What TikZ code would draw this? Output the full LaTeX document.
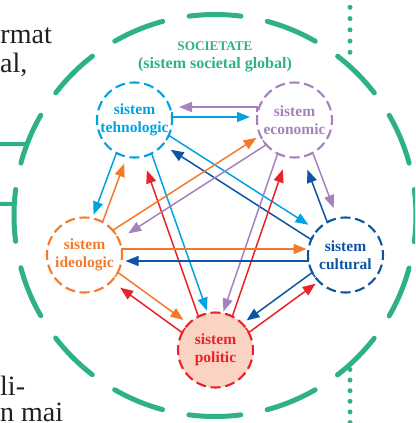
\documentclass[tikz,border=0pt]{standalone}
\usepackage{fontspec}
\setmainfont{Liberation Serif}
\usetikzlibrary{arrows.meta,calc}
\definecolor{cteh}{RGB}{0,163,224}
\definecolor{ceco}{RGB}{165,130,190}
\definecolor{cide}{RGB}{243,122,45}
\definecolor{ccul}{RGB}{12,84,164}
\definecolor{cpol}{RGB}{234,34,40}
\colorlet{ctehU}{cteh}
\colorlet{cecoU}{ceco}
\definecolor{polfill}{RGB}{250,211,194}
\definecolor{sgreen}{RGB}{46,178,133}
\definecolor{pagetext}{RGB}{35,31,32}
\newcommand\Rn{37.5pt}
\newcommand\biarr[5]{%
  \draw[arr,c#1] ($(#1)!\Rn!(#2)$) -- ($(#1)!\Rn!(#2)!#3!-90:(#2)$) -- ($(#2)!#4!(#1)!#3!90:(#1)$);
  \draw[arr,c#2] ($(#2)!\Rn!(#1)$) -- ($(#2)!\Rn!(#1)!#3!-90:(#1)$) -- ($(#1)!#5!(#2)!#3!90:(#2)$);
}
\begin{document}
\begin{tikzpicture}[x=1pt,y=-1pt,
  sys/.style={circle,draw=#1,text=#1,line width=2.1pt,minimum size=75pt,inner sep=0pt,
    align=center,font=\fontsize{15.5}{17.5}\selectfont\bfseries,
    dash pattern=on 10pt off 4.726pt,dash phase=5pt},
  arr/.style={line width=1.5pt,-{Triangle[length=13pt,width=10pt]},line join=miter},
  ring/.style={sgreen,line width=5pt,line cap=round},
  dots/.style={sgreen,line width=5pt,line cap=round},
  pagetxt/.style={pagetext,font=\fontsize{28}{30}\selectfont,inner sep=0pt}]
\useasboundingbox (0,0) rectangle (415,423);
\clip (0,0) rectangle (415,423);
% page text fragments
\node[pagetxt,anchor=base east] (p1) at (52,43) {rmat};
\node[pagetxt,anchor=base west] (p2) at (0,72.5) {al,};
\node[pagetxt,anchor=base west] (p3) at (0,395) {li-};
\node[pagetxt,anchor=base west] (p4) at (0,421.5) {n mai};
% outer ring
\coordinate (O) at (215,215.5);
\draw[ring,dash pattern=on 52pt off 26.93pt,dash phase=26pt] (O) circle[radius=201pt];
\coordinate (L1) at (0,144);
\coordinate (L2) at (0,204);
\draw[sgreen,line width=4pt] (L1) -- ($(O)+(159.2:201pt)$);
\draw[sgreen,line width=4pt] (L2) -- ($(O)+(176.7:201pt)$);
\coordinate (D1a) at (350,7.3);
\coordinate (D1b) at (350,53);
\coordinate (D2a) at (350,369.5);
\coordinate (D2b) at (350,423);
\draw[dots,dash pattern=on 0pt off 11.25pt] (D1a) -- (D1b);
\draw[dots,dash pattern=on 0pt off 10.6pt] (D2a) -- (D2b);
% title
\node[sgreen,font=\fontsize{13.2}{15}\selectfont\bfseries,anchor=base] (title) at (215,50) {SOCIETATE};
\node[sgreen,font=\fontsize{16}{18}\selectfont\bfseries,anchor=base] (sub) at (215,68.3) {(sistem societal global)};
% systems
\node[sys=cteh] (teh) at (134.5,120) {sistem\\tehnologic};
\node[sys=ceco] (eco) at (294.5,120) {sistem\\economic};
\node[sys=cide] (ide) at (84.5,255) {sistem\\ideologic};
\node[sys=ccul] (cul) at (345.5,255) {sistem\\cultural};
\node[sys=cpol,fill=polfill] (pol) at (215.5,350) {sistem\\politic};
% upper reference points for the top pair
\coordinate (tehU) at ($(teh)+(0,-8)$);
\coordinate (ecoU) at ($(eco)+(0,-8)$);
% arrows
\biarr{tehU}{ecoU}{5pt}{44.5pt}{44.5pt}
\biarr{teh}{ide}{5.5pt}{41pt}{44.5pt}
\biarr{teh}{pol}{-5pt}{40pt}{51.5pt}
\biarr{teh}{cul}{-5.5pt}{47.5pt}{46.5pt}
\biarr{ide}{eco}{-5.5pt}{41.5pt}{48.5pt}
\biarr{pol}{eco}{5pt}{50.5pt}{39pt}
\biarr{cul}{eco}{-5.5pt}{51pt}{48pt}
\biarr{ide}{cul}{-6pt}{39pt}{41pt}
\biarr{pol}{ide}{-5.5pt}{48pt}{43.5pt}
\biarr{cul}{pol}{5.5pt}{42.5pt}{41pt}
\end{tikzpicture}
\end{document}
